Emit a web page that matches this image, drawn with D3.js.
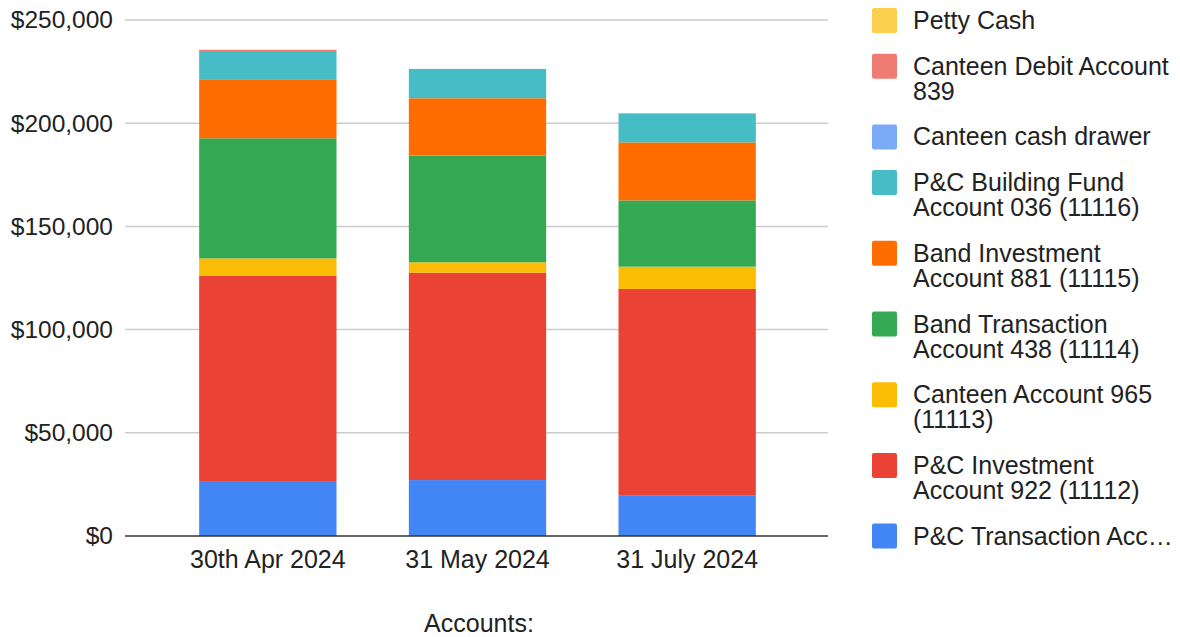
<!DOCTYPE html>
<html>
<head>
<meta charset="utf-8">
<script src="https://cdn.jsdelivr.net/npm/d3@7"></script>
<style>
  html, body { margin: 0; padding: 0; background: #fff; }
  svg { display: block; font-family: "Liberation Sans", Arial, sans-serif; }
</style>
</head>
<body>
<svg id="chart" width="1180" height="637"></svg>
<script>
const categories = ["30th Apr 2024", "31 May 2024", "31 July 2024"];

// Stack order: bottom to top
const seriesNames = [
  "P&C Transaction Account",
  "P&C Investment Account 922 (11112)",
  "Canteen Account 965 (11113)",
  "Band Transaction Account 438 (11114)",
  "Band Investment Account 881 (11115)",
  "P&C Building Fund Account 036 (11116)",
  "Canteen cash drawer",
  "Canteen Debit Account 839",
  "Petty Cash"
];
const pcTransaction   = [26600, 27100, 19500];
const pcInvestment    = [99500, 100500, 100200];
const canteenAccount  = [8400, 5000, 10800];
const bandTransaction = [58200, 51700, 32100];
const bandInvestment  = [28600, 27800, 28100];
const buildingFund    = [13700, 14200, 13800];
const canteenDrawer   = [0, 0, 0];
const canteenDebit    = [600, 0, 300];
const pettyCash       = [0, 0, 0];

const seriesValues = [pcTransaction, pcInvestment, canteenAccount, bandTransaction,
  bandInvestment, buildingFund, canteenDrawer, canteenDebit, pettyCash];

const seriesColors = ["#4285F4", "#EA4335", "#FBBC04", "#34A853", "#FF6D01",
  "#46BDC6", "#7BAAF7", "#F07B72", "#FCD04F"];

// Legend order (top to bottom) with wrapped lines
const legendLines = [
  ["Petty Cash"],
  ["Canteen Debit Account", "839"],
  ["Canteen cash drawer"],
  ["P&C Building Fund", "Account 036 (11116)"],
  ["Band Investment", "Account 881 (11115)"],
  ["Band Transaction", "Account 438 (11114)"],
  ["Canteen Account 965", "(11113)"],
  ["P&C Investment", "Account 922 (11112)"],
  ["P&C Transaction Acc\u2026"]
];
const legendSeriesIndex = [8, 7, 6, 5, 4, 3, 2, 1, 0];

const yTicks = [0, 50000, 100000, 150000, 200000, 250000];
const xTitle = "Accounts:";

const svg = d3.select("#chart");
const fontSize = 25;
const yFontSize = 24.5;

const y = d3.scaleLinear().domain([0, 250000]).range([536, 20]);
const x = d3.scaleBand().domain(categories).range([163, 792])
  .paddingInner(0.345).paddingOuter(0.1725);

const gridLeft = 125, gridRight = 828;

// gridlines
svg.append("g").selectAll("line").data(yTicks.filter(d => d > 0)).join("line")
  .attr("x1", gridLeft).attr("x2", gridRight)
  .attr("y1", d => y(d)).attr("y2", d => y(d))
  .attr("stroke", "#cccccc").attr("stroke-width", 1.5);

// y tick labels via axis
const fmt = d => "$" + d3.format(",")(d);
const yAxis = svg.append("g").attr("transform", `translate(${gridLeft},0)`)
  .call(d3.axisLeft(y).tickValues(yTicks).tickFormat(fmt).tickSize(0).tickPadding(12));
yAxis.select(".domain").remove();
yAxis.selectAll("text").attr("font-size", yFontSize).attr("fill", "#222")
  .attr("font-family", "Liberation Sans, Arial, sans-serif");

// stacked data
const rows = categories.map((c, i) => {
  const r = { cat: c };
  seriesNames.forEach((s, j) => r[s] = seriesValues[j][i]);
  return r;
});
const stack = d3.stack().keys(seriesNames)(rows);

svg.append("g").selectAll("g").data(stack).join("g")
  .attr("fill", (d, i) => seriesColors[i])
  .selectAll("rect").data(d => d).join("rect")
  .attr("x", d => x(d.data.cat))
  .attr("width", x.bandwidth())
  .attr("y", d => y(d[1]))
  .attr("height", d => Math.max(0, y(d[0]) - y(d[1])));

// baseline
svg.append("line").attr("x1", gridLeft).attr("x2", gridRight)
  .attr("y1", y(0)).attr("y2", y(0)).attr("stroke", "#333").attr("stroke-width", 1.5);

// x axis labels
const xAxis = svg.append("g").attr("transform", `translate(0,${y(0)})`)
  .call(d3.axisBottom(x).tickSize(0).tickPadding(14));
xAxis.select(".domain").remove();
xAxis.selectAll("text").attr("font-size", fontSize).attr("fill", "#222")
  .attr("font-family", "Liberation Sans, Arial, sans-serif");

// x title
svg.append("text").attr("x", 479).attr("y", 632).attr("text-anchor", "middle")
  .attr("font-size", fontSize).attr("fill", "#222").text(xTitle);

// legend
let ly = 8;
const legend = svg.append("g");
legendLines.forEach((lines, i) => {
  const g = legend.append("g");
  g.append("rect").attr("x", 872).attr("y", ly).attr("width", 25).attr("height", 25)
    .attr("rx", 2).attr("fill", seriesColors[legendSeriesIndex[i]]);
  lines.forEach((t, k) => {
    g.append("text").attr("x", 913).attr("y", ly + 21 + k * 25)
      .attr("font-size", fontSize).attr("fill", "#222").text(t);
  });
  ly += 25 * lines.length + 20.7;
});
</script>
</body>
</html>
